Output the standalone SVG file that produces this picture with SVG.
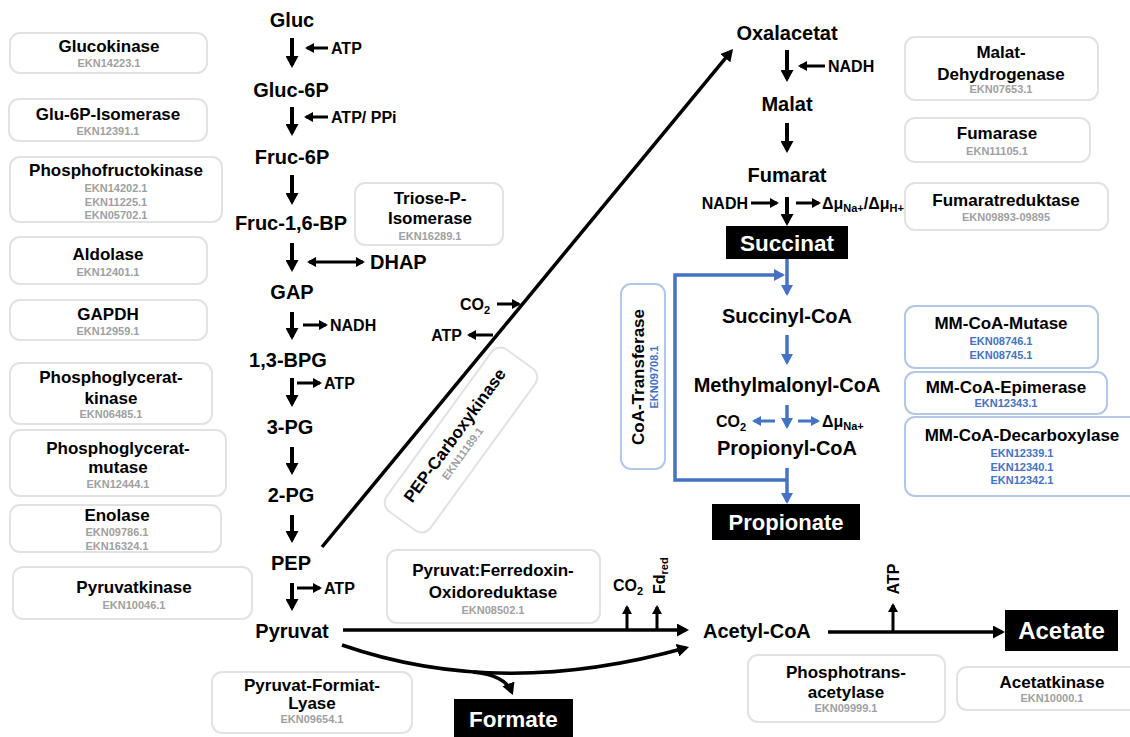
<svg xmlns="http://www.w3.org/2000/svg" width="1130" height="737" viewBox="0 0 1130 737">
<defs>
<style>
text{font-family:"Liberation Sans",Arial,Helvetica,sans-serif;font-weight:bold}
.bx{fill:#fff;stroke:#e2e2e2;stroke-width:2}
.bb{fill:#fff;stroke:#b4c7e7;stroke-width:2}
.ti{font-size:17px;text-anchor:middle;fill:#000}
.id{font-size:11px;text-anchor:middle;fill:#a0a0a0}
.bi{font-size:11px;text-anchor:middle;fill:#4472c4}
.m{font-size:20px;text-anchor:middle;fill:#000}
.l{font-size:16px;fill:#000}
.w{fill:#fff;text-anchor:middle}
.k{stroke:#000;stroke-width:4;fill:none}
.k3{stroke:#000;stroke-width:3;fill:none}
.bl{stroke:#4472c4;stroke-width:3.5;fill:none}
.bl3{stroke:#4472c4;stroke-width:3;fill:none}
</style>
<marker id="a" markerUnits="userSpaceOnUse" markerWidth="12" markerHeight="13" refX="9" refY="6.5" orient="auto"><path d="M0,0L12,6.5L0,13z" fill="#000"/></marker>
<marker id="s" markerUnits="userSpaceOnUse" markerWidth="9" markerHeight="10" refX="7" refY="5" orient="auto-start-reverse"><path d="M0,0L9,5L0,10z" fill="#000"/></marker>
<marker id="b" markerUnits="userSpaceOnUse" markerWidth="11" markerHeight="12" refX="8.5" refY="6" orient="auto"><path d="M0,0L11,6L0,12z" fill="#4472c4"/></marker>
<marker id="bs" markerUnits="userSpaceOnUse" markerWidth="9" markerHeight="10" refX="7" refY="5" orient="auto"><path d="M0,0L9,5L0,10z" fill="#4472c4"/></marker>
</defs>
<rect width="1130" height="737" fill="#fff"/>

<!-- enzyme boxes left -->
<g id="e-glucokinase"><rect class="bx" x="10" y="33" width="197" height="40" rx="10"/><text class="ti" x="109" y="52">Glucokinase</text><text class="id" x="109" y="67">EKN14223.1</text></g>
<g id="e-glu6p-isomerase"><rect class="bx" x="9" y="99" width="198" height="42" rx="10"/><text class="ti" x="108" y="120">Glu-6P-Isomerase</text><text class="id" x="108" y="135">EKN12391.1</text></g>
<g id="e-phosphofructokinase"><rect class="bx" x="10" y="157" width="212" height="65" rx="10"/><text class="ti" x="116" y="176">Phosphofructokinase</text><text class="id" x="116" y="192">EKN14202.1</text><text class="id" x="116" y="205.5">EKN11225.1</text><text class="id" x="116" y="219">EKN05702.1</text></g>
<g id="e-aldolase"><rect class="bx" x="10" y="237" width="197" height="47" rx="10"/><text class="ti" x="108" y="260">Aldolase</text><text class="id" x="108" y="276">EKN12401.1</text></g>
<g id="e-gapdh"><rect class="bx" x="10" y="300" width="197" height="40" rx="10"/><text class="ti" x="108" y="320">GAPDH</text><text class="id" x="108" y="335">EKN12959.1</text></g>
<g id="e-pgk"><rect class="bx" x="10" y="363" width="202" height="61" rx="10"/><text class="ti" x="111" y="383">Phosphoglycerat-</text><text class="ti" x="111" y="404">kinase</text><text class="id" x="111" y="418">EKN06485.1</text></g>
<g id="e-pgm"><rect class="bx" x="10" y="430" width="216" height="66" rx="10"/><text class="ti" x="118" y="454">Phosphoglycerat-</text><text class="ti" x="118" y="473">mutase</text><text class="id" x="118" y="488">EKN12444.1</text></g>
<g id="e-enolase"><rect class="bx" x="10" y="505" width="211" height="47" rx="10"/><text class="ti" x="117" y="521">Enolase</text><text class="id" x="117" y="536">EKN09786.1</text><text class="id" x="117" y="550">EKN16324.1</text></g>
<g id="e-pyruvatkinase"><rect class="bx" x="13" y="567" width="239" height="52" rx="10"/><text class="ti" x="134" y="593">Pyruvatkinase</text><text class="id" x="134" y="609">EKN10046.1</text></g>
<g id="e-pfl"><rect class="bx" x="212" y="672" width="200" height="61" rx="10"/><text class="ti" x="312" y="690.5">Pyruvat-Formiat-</text><text class="ti" x="312" y="708.5">Lyase</text><text class="id" x="312" y="723">EKN09654.1</text></g>
<g id="e-tpi"><rect class="bx" x="355" y="183" width="148" height="62" rx="10"/><text class="ti" x="430" y="204">Triose-P-</text><text class="ti" x="430" y="224">Isomerase</text><text class="id" x="430" y="240">EKN16289.1</text></g>
<g id="e-pepck" transform="translate(461,440) rotate(-54)"><rect class="bx" x="-100" y="-27" width="200" height="54" rx="11"/><text class="ti" x="0" y="-2">PEP-Carboxykinase</text><text class="id" x="-10" y="13">EKN11189.1</text></g>
<g id="e-pfor"><rect class="bx" x="387" y="550" width="213" height="73" rx="10"/><text class="ti" x="493" y="576">Pyruvat:Ferredoxin-</text><text class="ti" x="493" y="598">Oxidoreduktase</text><text class="id" x="493" y="614">EKN08502.1</text></g>
<g id="e-pta"><rect class="bx" x="748" y="655" width="197" height="67" rx="10"/><text class="ti" x="846" y="678">Phosphotrans-</text><text class="ti" x="846" y="698">acetylase</text><text class="id" x="846" y="712">EKN09999.1</text></g>
<g id="e-ack"><rect class="bx" x="957" y="667" width="185" height="43" rx="10"/><text class="ti" x="1052" y="688">Acetatkinase</text><text class="id" x="1052" y="702">EKN10000.1</text></g>

<!-- enzyme boxes right -->
<g id="e-mdh"><rect class="bx" x="905" y="37" width="193" height="63" rx="10"/><text class="ti" x="1001" y="58">Malat-</text><text class="ti" x="1001" y="80">Dehydrogenase</text><text class="id" x="1001" y="93">EKN07653.1</text></g>
<g id="e-fumarase"><rect class="bx" x="905" y="118" width="185" height="44" rx="10"/><text class="ti" x="997" y="139">Fumarase</text><text class="id" x="997" y="155">EKN11105.1</text></g>
<g id="e-frd"><rect class="bx" x="905" y="183" width="203" height="47" rx="10"/><text class="ti" x="1006" y="206">Fumaratreduktase</text><text class="id" x="1006" y="221">EKN09893-09895</text></g>
<g id="e-mcm"><rect class="bb" x="905" y="306" width="193" height="62" rx="10"/><text class="ti" x="1001" y="329">MM-CoA-Mutase</text><text class="bi" x="1001" y="345">EKN08746.1</text><text class="bi" x="1001" y="359">EKN08745.1</text></g>
<g id="e-mce"><rect class="bb" x="905" y="372" width="202" height="42" rx="10"/><text class="ti" x="1006" y="393">MM-CoA-Epimerase</text><text class="bi" x="1006" y="407">EKN12343.1</text></g>
<g id="e-mmd"><rect class="bb" x="905" y="417" width="240" height="79" rx="10"/><text class="ti" x="1022" y="441">MM-CoA-Decarboxylase</text><text class="bi" x="1022" y="457">EKN12339.1</text><text class="bi" x="1022" y="471">EKN12340.1</text><text class="bi" x="1022" y="484">EKN12342.1</text></g>
<g id="e-coat"><rect class="bb" x="621" y="284" width="44" height="185" rx="10"/><text class="ti" transform="translate(644,377) rotate(-90)">CoA-Transferase</text><text class="bi" transform="translate(658,377) rotate(-90)">EKN09708.1</text></g>

<!-- metabolites -->
<g id="m-gluc"><text class="m" x="292" y="27">Gluc</text></g>
<g id="m-gluc6p"><text class="m" x="291" y="97">Gluc-6P</text></g>
<g id="m-fruc6p"><text class="m" x="292" y="164">Fruc-6P</text></g>
<g id="m-fruc16bp"><text class="m" x="291" y="230">Fruc-1,6-BP</text></g>
<g id="m-dhap"><text class="m" x="370" y="269" style="text-anchor:start">DHAP</text></g>
<g id="m-gap"><text class="m" x="292" y="299">GAP</text></g>
<g id="m-13bpg"><text class="m" x="288" y="367">1,3-BPG</text></g>
<g id="m-3pg"><text class="m" x="290" y="434">3-PG</text></g>
<g id="m-2pg"><text class="m" x="291" y="502">2-PG</text></g>
<g id="m-pep"><text class="m" x="291" y="570">PEP</text></g>
<g id="m-pyruvat"><text class="m" x="292" y="638">Pyruvat</text></g>
<g id="m-oxalacetat"><text class="m" x="787" y="40">Oxalacetat</text></g>
<g id="m-malat"><text class="m" x="787" y="111">Malat</text></g>
<g id="m-fumarat"><text class="m" x="787" y="182">Fumarat</text></g>
<g id="m-succinylcoa"><text class="m" x="787" y="323">Succinyl-CoA</text></g>
<g id="m-methylmalonylcoa"><text class="m" x="787" y="392">Methylmalonyl-CoA</text></g>
<g id="m-propionylcoa"><text class="m" x="787" y="455">Propionyl-CoA</text></g>
<g id="m-acetylcoa"><text class="m" x="703" y="638" style="text-anchor:start">Acetyl-CoA</text></g>

<!-- products -->
<g id="p-succinat"><rect x="726" y="226" width="122" height="33" fill="#000"/><text class="w" x="787" y="251" style="font-size:22.5px">Succinat</text></g>
<g id="p-propionate"><rect x="712" y="504" width="148" height="36" fill="#000"/><text class="w" x="786" y="530" style="font-size:22px">Propionate</text></g>
<g id="p-formate"><rect x="454" y="699" width="119" height="38" fill="#000"/><text class="w" x="513.5" y="727" style="font-size:22.5px">Formate</text></g>
<g id="p-acetate"><rect x="1005" y="610" width="113" height="41" fill="#000"/><text class="w" x="1061.5" y="639" style="font-size:24px">Acetate</text></g>

<!-- side labels -->
<g id="labels">
<text class="l" x="331" y="54">ATP</text>
<text class="l" x="331" y="123">ATP/ PPi</text>
<text class="l" x="330" y="331">NADH</text>
<text class="l" x="324" y="389">ATP</text>
<text class="l" x="324" y="594">ATP</text>
<text class="l" x="460" y="310">CO<tspan font-size="11" dy="4">2</tspan></text>
<text class="l" x="462" y="341" style="text-anchor:end">ATP</text>
<text class="l" x="828" y="72">NADH</text>
<text class="l" x="748" y="209" style="text-anchor:end">NADH</text>
<text class="l" x="822" y="209">Δμ<tspan font-size="11" dy="3">Na+</tspan><tspan dy="-3">/Δμ</tspan><tspan font-size="11" dy="3">H+</tspan></text>
<text class="l" x="716" y="427">CO<tspan font-size="11" dy="4">2</tspan></text>
<text class="l" x="822" y="427">Δμ<tspan font-size="11" dy="3">Na+</tspan></text>
<text class="l" x="613" y="591">CO<tspan font-size="11" dy="4">2</tspan></text>
<text class="l" transform="translate(665,594) rotate(-90)">Fd<tspan font-size="11" dy="3">red</tspan></text>
<text class="l" transform="translate(899,579) rotate(-90)" style="text-anchor:middle">ATP</text>
</g>

<!-- connectors -->
<g id="connectors">
<line class="k" x1="292" y1="38" x2="292" y2="65" marker-end="url(#a)"/>
<line class="k" x1="292" y1="107" x2="292" y2="133" marker-end="url(#a)"/>
<line class="k" x1="292" y1="175" x2="292" y2="202" marker-end="url(#a)"/>
<line class="k" x1="292" y1="243" x2="292" y2="269" marker-end="url(#a)"/>
<line class="k" x1="292" y1="312" x2="292" y2="337" marker-end="url(#a)"/>
<line class="k" x1="292" y1="378" x2="292" y2="404" marker-end="url(#a)"/>
<line class="k" x1="292" y1="447" x2="292" y2="472" marker-end="url(#a)"/>
<line class="k" x1="292" y1="515" x2="292" y2="540" marker-end="url(#a)"/>
<line class="k" x1="292" y1="583" x2="292" y2="608" marker-end="url(#a)"/>

<line class="k3" x1="328" y1="48" x2="307" y2="48" marker-end="url(#s)"/>
<line class="k3" x1="328" y1="117" x2="306" y2="117" marker-end="url(#s)"/>
<line class="k3" x1="309" y1="262" x2="363" y2="262" marker-start="url(#s)" marker-end="url(#s)"/>
<line class="k3" x1="303" y1="325" x2="326" y2="325" marker-end="url(#s)"/>
<line class="k3" x1="297" y1="383" x2="320" y2="383" marker-end="url(#s)"/>
<line class="k3" x1="297" y1="588" x2="320" y2="588" marker-end="url(#s)"/>

<line class="k" x1="322" y1="547" x2="731.1" y2="51.3" style="stroke-width:3.5" marker-end="url(#a)"/>
<line class="k3" x1="497" y1="304" x2="519" y2="304" marker-end="url(#s)"/>
<line class="k3" x1="493" y1="335" x2="469" y2="335" marker-end="url(#s)"/>

<line class="k" x1="787" y1="50" x2="787" y2="79" marker-end="url(#a)"/>
<line class="k3" x1="825" y1="66" x2="800" y2="66" marker-end="url(#s)"/>
<line class="k" x1="787" y1="123" x2="787" y2="150" marker-end="url(#a)"/>
<line class="k" x1="787" y1="197" x2="787" y2="223" marker-end="url(#a)"/>
<line class="k3" x1="751" y1="203" x2="777" y2="203" marker-end="url(#s)"/>
<line class="k3" x1="796" y1="203" x2="819" y2="203" marker-end="url(#s)"/>

<line class="bl" x1="787" y1="259" x2="787" y2="293.5" marker-end="url(#b)"/>
<path class="bl" d="M787,480H675V275H782.5" marker-end="url(#b)"/>
<line class="bl" x1="787" y1="335" x2="787" y2="362.5" marker-end="url(#b)"/>
<line class="bl" x1="787" y1="405" x2="787" y2="426.5" marker-end="url(#b)"/>
<line class="bl3" x1="775" y1="421" x2="754" y2="421" marker-end="url(#bs)"/>
<line class="bl3" x1="798" y1="421" x2="818" y2="421" marker-end="url(#bs)"/>
<line class="bl" x1="787" y1="468" x2="787" y2="501.5" marker-end="url(#b)"/>

<line class="k" x1="343" y1="630" x2="686" y2="630" style="stroke-width:3.5" marker-end="url(#a)"/>
<line class="k3" x1="627" y1="630" x2="627" y2="607" marker-end="url(#s)"/>
<line class="k3" x1="657" y1="630" x2="657" y2="607" marker-end="url(#s)"/>
<path class="k" d="M342,645Q500,700 686.1,647.8" style="stroke-width:3.5" marker-end="url(#a)"/>
<path class="k" d="M473,672Q505,675 511.7,692.3" style="stroke-width:3.5" marker-end="url(#a)"/>

<line class="k" x1="828" y1="632" x2="1002" y2="632" style="stroke-width:3.5" marker-end="url(#a)"/>
<line class="k3" x1="893" y1="632" x2="893" y2="605" marker-end="url(#s)"/>
</g>
</svg>
